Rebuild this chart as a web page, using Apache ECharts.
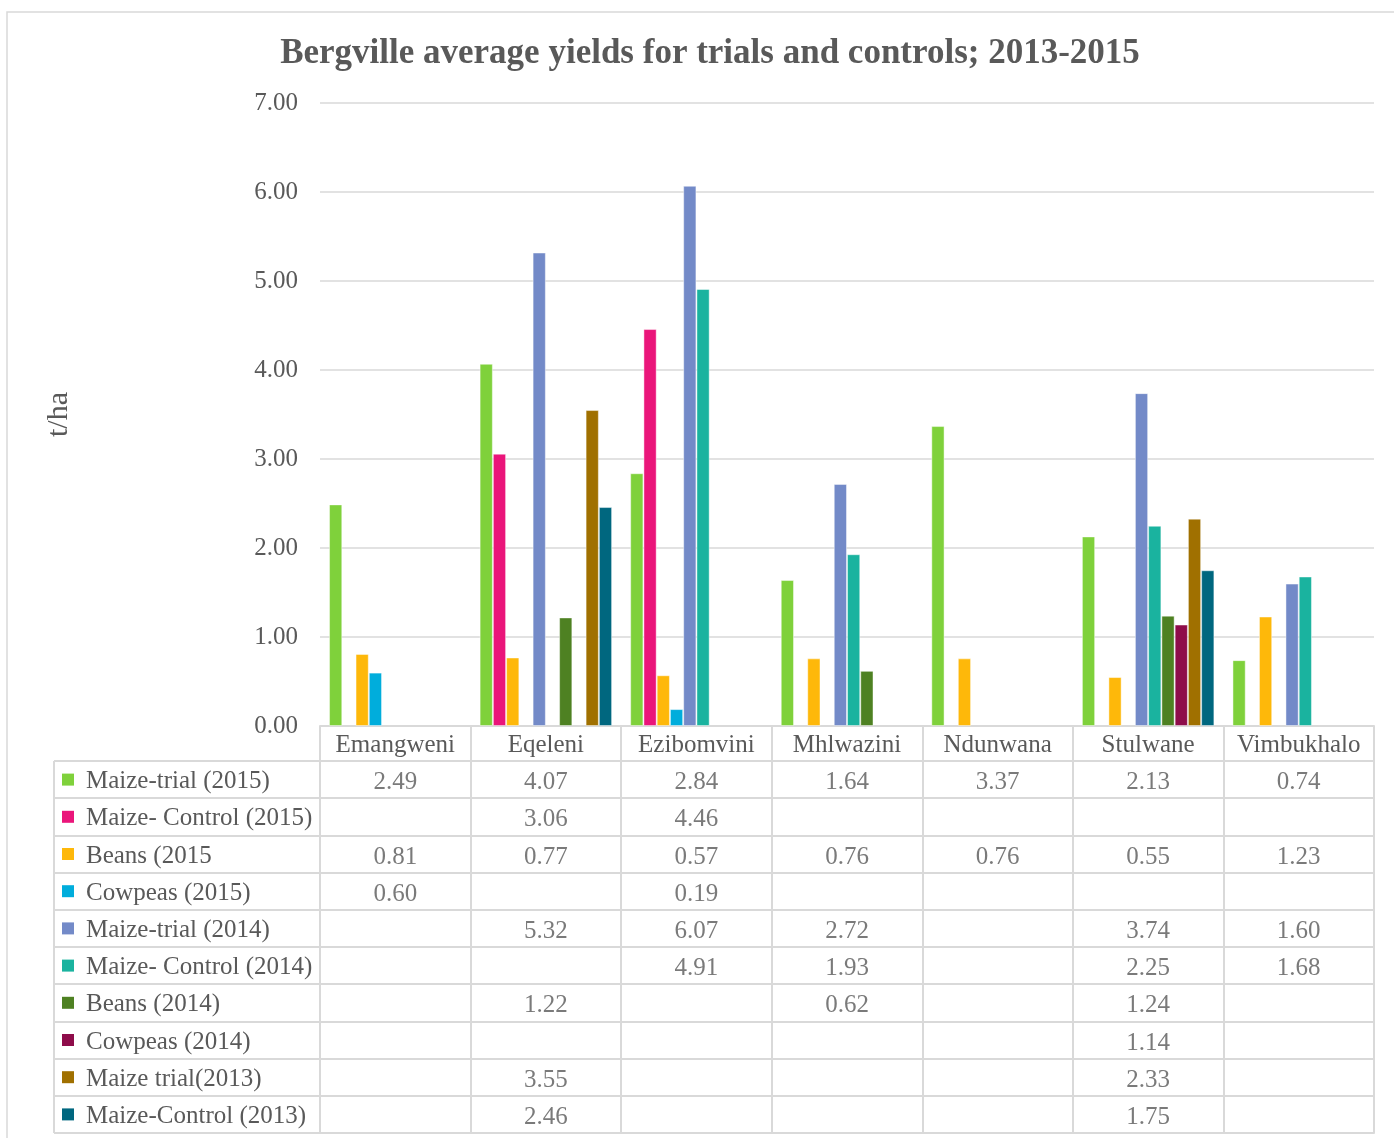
<!DOCTYPE html>
<html>
<head>
<meta charset="utf-8">
<title>Bergville average yields</title>
<script src="https://cdn.jsdelivr.net/npm/echarts@6/dist/echarts.min.js"></script>
<style>
  html, body { margin: 0; padding: 0; background: #ffffff; }
  #chart { width: 1394px; height: 1138px; }
</style>
</head>
<body>
<div id="chart"></div>
<script>
// Villages (columns of the data table)
const villages = ['Emangweni', 'Eqeleni', 'Ezibomvini', 'Mhlwazini', 'Ndunwana', 'Stulwane', 'Vimbukhalo'];

// Series names as shown in the data table
const seriesNames = [
  'Maize-trial (2015)', 'Maize- Control (2015)', 'Beans (2015', 'Cowpeas (2015)',
  'Maize-trial (2014)', 'Maize- Control (2014)', 'Beans (2014)', 'Cowpeas (2014)',
  'Maize trial(2013)', 'Maize-Control (2013)'
];

// Average yields, t/ha (null = no trial)
const maizeTrial2015   = [2.49, 4.07, 2.84, 1.64, 3.37, 2.13, 0.74];
const maizeControl2015 = [null, 3.06, 4.46, null, null, null, null];
const beans2015        = [0.81, 0.77, 0.57, 0.76, 0.76, 0.55, 1.23];
const cowpeas2015      = [0.60, null, 0.19, null, null, null, null];
const maizeTrial2014   = [null, 5.32, 6.07, 2.72, null, 3.74, 1.60];
const maizeControl2014 = [null, null, 4.91, 1.93, null, 2.25, 1.68];
const beans2014        = [null, 1.22, null, 0.62, null, 1.24, null];
const cowpeas2014      = [null, null, null, null, null, 1.14, null];
const maizeTrial2013   = [null, 3.55, null, null, null, 2.33, null];
const maizeControl2013 = [null, 2.46, null, null, null, 1.75, null];

const yTicks = [0, 1, 2, 3, 4, 5, 6, 7];

const allValues = [
  maizeTrial2015, maizeControl2015, beans2015, cowpeas2015,
  maizeTrial2014, maizeControl2014, beans2014, cowpeas2014,
  maizeTrial2013, maizeControl2013
];

const colors = [
  '#7fd13b', '#ea157a', '#feb80a', '#00addc', '#738ac8',
  '#1ab39f', '#4e8122', '#8e0c4a', '#a07000', '#00677f'
];

const FONT = 'Liberation Serif';
const TEXT = '#595959';
const LINE = '#d9d9d9';
const FS = 25;

const chart = echarts.init(document.getElementById('chart'), null, { renderer: 'canvas' });

// Layout of the plot and the data table beneath it
const plotLeft = 320, plotRight = 20, plotTop = 103, plotBottomY = 726;
const tableTop = 761, tableBottomY = 1133, tableLeft = 54;

// Rich-text styles for the legend keys in the table's first column
const rich = { sp: { width: 12 }, n: { fontFamily: FONT, fontSize: FS, color: TEXT, padding: [4, 0, 0, 0] } };
colors.forEach((c, i) => { rich['k' + i] = { width: 12, height: 12, backgroundColor: c }; });

// Table cells: [village index, series index, value]
const tableCells = [];
allValues.forEach((arr, si) => {
  arr.forEach((v, ci) => { if (v !== null) tableCells.push([ci, si, v]); });
});

const barSeries = allValues.map((arr, i) => ({
  name: seriesNames[i],
  type: 'bar',
  xAxisIndex: 0,
  yAxisIndex: 0,
  data: arr,
  barGap: '0%',
  barCategoryGap: '12%',
  itemStyle: { color: colors[i], borderColor: 'rgba(255,255,255,0.45)', borderWidth: 1 },
  silent: true
}));

const option = {
  backgroundColor: '#ffffff',
  animation: false,
  color: colors,
  title: {
    text: 'Bergville average yields for trials and controls; 2013-2015',
    left: 705,
    top: 31,
    textAlign: 'center',
    textStyle: { fontFamily: FONT, fontSize: 35, fontWeight: 'bold', color: TEXT }
  },
  graphic: [
    {
      type: 'rect',
      shape: { x: 7, y: 12, width: 1400, height: 1200 },
      style: { fill: 'none', stroke: LINE, lineWidth: 1.5 },
      silent: true
    },
    {
      type: 'line',
      shape: { x1: tableLeft, y1: tableTop, x2: tableLeft, y2: tableBottomY },
      style: { stroke: LINE, lineWidth: 2 },
      silent: true
    }
  ],
  grid: [
    { left: plotLeft, right: plotRight, top: plotTop, bottom: 1138 - plotBottomY },
    { left: plotLeft, right: plotRight, top: tableTop, bottom: 1138 - tableBottomY }
  ],
  xAxis: [
    {
      type: 'category',
      gridIndex: 0,
      data: villages,
      axisLine: { show: true, lineStyle: { color: LINE, width: 2 } },
      axisTick: { show: true, alignWithLabel: false, length: tableTop - plotBottomY, lineStyle: { color: LINE, width: 2 } },
      axisLabel: { interval: 0, hideOverlap: false, fontFamily: FONT, fontSize: FS, color: TEXT, margin: 7 }
    },
    {
      type: 'category',
      gridIndex: 1,
      data: villages,
      axisLine: { show: true, lineStyle: { color: LINE, width: 2 } },
      axisTick: { show: false },
      axisLabel: { show: false },
      splitLine: { show: true, interval: 0, lineStyle: { color: LINE, width: 2 } }
    }
  ],
  yAxis: [
    {
      type: 'value',
      gridIndex: 0,
      min: yTicks[0],
      max: yTicks[yTicks.length - 1],
      interval: 1,
      axisLine: { show: false },
      axisTick: { show: false },
      axisLabel: {
        fontFamily: FONT, fontSize: FS, color: TEXT, margin: 22,
        formatter: v => v.toFixed(2)
      },
      splitLine: { show: true, lineStyle: { color: LINE, width: 1.5 } },
      name: 't/ha',
      nameLocation: 'middle',
      nameGap: 246,
      nameTextStyle: { fontFamily: FONT, fontSize: 30, color: TEXT }
    },
    {
      type: 'category',
      gridIndex: 1,
      inverse: true,
      data: seriesNames,
      axisLine: { show: true, lineStyle: { color: LINE, width: 2 } },
      axisTick: { show: true, interval: 0, alignWithLabel: false, length: plotLeft - tableLeft, lineStyle: { color: LINE, width: 2 } },
      splitLine: { show: true, interval: 0, lineStyle: { color: LINE, width: 2 } },
      axisLabel: {
        interval: 0,
        align: 'left',
        margin: plotLeft - 62,
        formatter: (value, idx) => '{k' + idx + '|}{sp|}{n|' + value + '}',
        rich: rich
      }
    }
  ],
  series: barSeries.concat([
    {
      type: 'scatter',
      xAxisIndex: 1,
      yAxisIndex: 1,
      data: tableCells,
      symbolSize: 2,
      itemStyle: { color: 'rgba(255,255,255,0)' },
      silent: true,
      label: {
        show: true,
        position: 'inside',
        formatter: p => '{v|' + p.value[2].toFixed(2) + '}',
        rich: { v: { fontFamily: FONT, fontSize: FS, color: TEXT, padding: [6, 0, 0, 0] } }
      },
      labelLayout: { hideOverlap: false }
    }
  ])
};

chart.setOption(option);
</script>
</body>
</html>
